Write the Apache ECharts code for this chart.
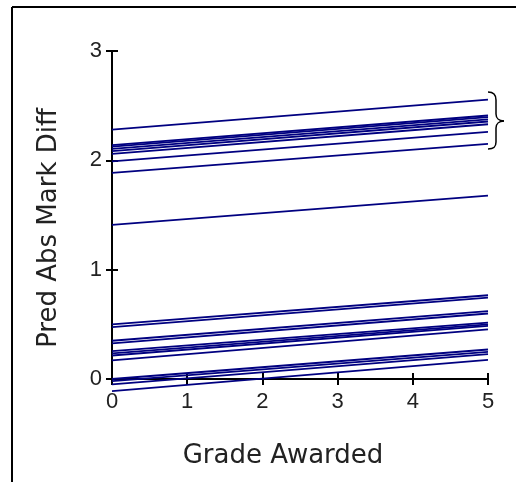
<!DOCTYPE html>
<html>
<head>
<meta charset="utf-8">
<script src="https://cdn.jsdelivr.net/npm/echarts@6/dist/echarts.min.js"></script>
<style>html,body{margin:0;padding:0;background:#fff;}#c{width:516px;height:482px;}</style>
</head>
<body>
<div id="c"></div>
<script>
// Grade range (x)
var xStart = 0;
var xEnd = 5;
// Predicted value of each line at Grade 0 and Grade 5
var startValues = [2.28, 2.14, 2.125, 2.105, 2.085, 2.06, 1.99, 1.885,
  1.41,
  0.50, 0.475, 0.35, 0.325, 0.255, 0.235, 0.215, 0.17, 0.00, -0.02, -0.05, -0.11];
var endValues = [2.555, 2.41, 2.395, 2.375, 2.355, 2.33, 2.26, 2.15,
  1.677,
  0.766, 0.745, 0.62, 0.599, 0.515, 0.50, 0.485, 0.453, 0.27, 0.249, 0.228, 0.175];
var xTicks = [0, 1, 2, 3, 4, 5];
var yTicks = [0, 1, 2, 3];
var xName = 'Grade Awarded';
var yName = 'Pred Abs Mark Diff';

var FONT = '"Liberation Sans", Arial, sans-serif';
var NAME_FONT = '"DejaVu Sans", Verdana, sans-serif';
var series = startValues.map(function (s, i) {
  return {
    type: 'line',
    data: [[xStart, s], [xEnd, endValues[i]]],
    symbol: 'none',
    clip: false,
    silent: true,
    lineStyle: { color: '#000080', width: 1.8 }
  };
});

var axisCommon = {
  axisLine: { show: true, onZero: false, lineStyle: { color: '#000', width: 2 } },
  splitLine: { show: false }
};

var braceStyle = { stroke: '#000', lineWidth: 1.5, fill: null };
function bez(x1, y1, cx1, cy1, cx2, cy2, x2, y2) {
  return { type: 'bezierCurve', shape: { x1: x1, y1: y1, cpx1: cx1, cpy1: cy1, cpx2: cx2, cpy2: cy2, x2: x2, y2: y2 }, style: braceStyle };
}

var chart = echarts.init(document.getElementById('c'), null, { renderer: 'canvas' });
chart.setOption({
  animation: false,
  backgroundColor: '#fff',
  grid: { left: 112, top: 51, right: 28, bottom: 103 },
  xAxis: [
    Object.assign({}, axisCommon, {
      type: 'value', min: xTicks[0], max: xTicks[xTicks.length - 1], interval: 1,
      position: 'bottom',
      axisTick: { show: true, length: 6, lineStyle: { color: '#000', width: 2 } },
      axisLabel: { color: '#222', fontSize: 22, fontFamily: FONT, margin: 12 },
      name: xName, nameLocation: 'middle', nameGap: 64,
      nameTextStyle: { color: '#222', fontSize: 26, fontFamily: NAME_FONT, padding: [0, 34, 0, 0] }
    }),
    Object.assign({}, axisCommon, {
      type: 'value', min: xTicks[0], max: xTicks[xTicks.length - 1], interval: 1,
      position: 'bottom',
      axisTick: { show: true, inside: true, length: 6, lineStyle: { color: '#000', width: 2 } },
      axisLabel: { show: false }
    })
  ],
  yAxis: [
    Object.assign({}, axisCommon, {
      type: 'value', min: yTicks[0], max: yTicks[yTicks.length - 1], interval: 1,
      position: 'left',
      axisTick: { show: true, length: 6, lineStyle: { color: '#000', width: 2 } },
      axisLabel: { color: '#222', fontSize: 22, fontFamily: FONT, margin: 10 },
      name: yName, nameLocation: 'middle', nameGap: 50, nameRotate: 90,
      nameTextStyle: { color: '#222', fontSize: 26, fontFamily: NAME_FONT, padding: [0, 26, 0, 0] }
    }),
    Object.assign({}, axisCommon, {
      type: 'value', min: yTicks[0], max: yTicks[yTicks.length - 1], interval: 1,
      position: 'left',
      axisTick: { show: true, inside: true, length: 6, lineStyle: { color: '#000', width: 2 } },
      axisLabel: { show: false }
    })
  ],
  series: series,
  graphic: [
    { type: 'line', shape: { x1: 12, y1: 7, x2: 516, y2: 7 }, style: { stroke: '#000', lineWidth: 2 } },
    { type: 'line', shape: { x1: 12, y1: 7, x2: 12, y2: 482 }, style: { stroke: '#000', lineWidth: 2 } },
    bez(488, 92, 494, 92, 496, 95, 496, 100),
    { type: 'line', shape: { x1: 496, y1: 100, x2: 496, y2: 114 }, style: braceStyle },
    bez(496, 114, 496, 118, 499, 121, 504, 121),
    bez(504, 121, 499, 121, 496, 124, 496, 128),
    { type: 'line', shape: { x1: 496, y1: 128, x2: 496, y2: 142 }, style: braceStyle },
    bez(496, 142, 496, 147, 494, 149, 488, 149)
  ]
});
</script>
</body>
</html>
